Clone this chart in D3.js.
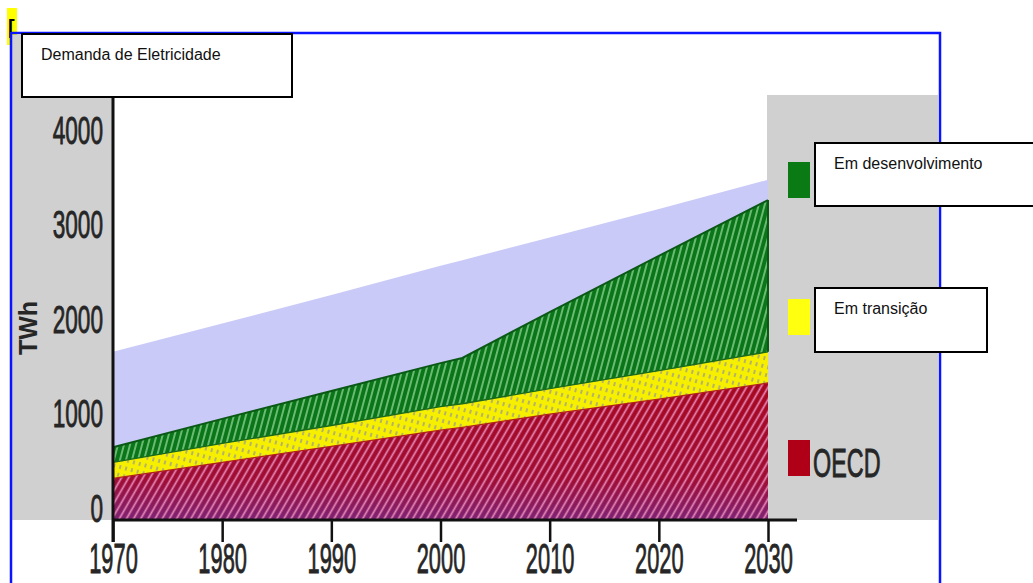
<!DOCTYPE html>
<html>
<head>
<meta charset="utf-8">
<script src="https://cdn.jsdelivr.net/npm/d3@7"></script>
<style>
  body { margin: 0; background: #fff; }
  svg { display: block; font-family: "Liberation Sans", Arial, sans-serif; }
</style>
</head>
<body>
<div id="chart"></div>
<script>
// values (TWh)
const years       = [1970, 1980, 1990, 2000, 2002, 2010, 2020, 2030];
const oecd        = [440, 610, 780, 950, 980, 1120, 1280, 1450];
const transition  = [170, 200, 220, 250, 250, 270, 300, 330];
const developing  = [160, 260, 365, 460, 485, 810, 1215, 1605];
const upperRange  = [1780, 2080, 2380, 2690, 2750, 2990, 3290, 3600];
const yTicks      = [0, 1000, 2000, 3000, 4000];
const xTicks      = [1970, 1980, 1990, 2000, 2010, 2020, 2030];

const width = 1033, height = 583;

let rows = years.map((yr, i) => ({
  year: yr, oecd: oecd[i], transition: transition[i], developing: developing[i], upper: upperRange[i]
}));

let x = d3.scaleLinear().domain([1970, 2030]).range([113, 768]);
let y = d3.scaleLinear().domain([0, 4000]).range([520, 142]);

let svg = d3.select("#chart").append("svg")
  .attr("width", width).attr("height", height);

let defs = svg.append("defs");

// red hatch + gradient
let grad = defs.append("linearGradient").attr("id", "redGrad")
  .attr("gradientUnits", "userSpaceOnUse")
  .attr("x1", 0).attr("y1", 380).attr("x2", 0).attr("y2", 522);
grad.append("stop").attr("offset", "0%").attr("stop-color", "#a8081f");
grad.append("stop").attr("offset", "70%").attr("stop-color", "#a00e35");
grad.append("stop").attr("offset", "100%").attr("stop-color", "#7c2478");

function stripes(id, w, angle, color, lw) {
  let p = defs.append("pattern").attr("id", id)
    .attr("patternUnits", "userSpaceOnUse")
    .attr("width", w).attr("height", 10)
    .attr("patternTransform", "rotate(" + angle + ")");
  p.append("line").attr("x1", w / 2).attr("x2", w / 2)
    .attr("y1", 0).attr("y2", 10)
    .attr("stroke", color).attr("stroke-width", lw);
  return p;
}
stripes("redHatch", 6.2, 30, "#e586b6", 1.7);
stripes("greenHatch", 5.8, 15, "#86cf8c", 1.5);

let yp = defs.append("pattern").attr("id", "yellowHatch")
  .attr("patternUnits", "userSpaceOnUse")
  .attr("width", 6).attr("height", 8)
  .attr("patternTransform", "rotate(15)");
yp.append("line").attr("x1", 3).attr("x2", 3).attr("y1", 2).attr("y2", 6)
  .attr("stroke", "#b0ac70").attr("stroke-width", 1.8);

// frame pieces
svg.append("rect").attr("x", 7).attr("y", 8).attr("width", 10).attr("height", 37).attr("fill", "#ffff00");
svg.append("text").attr("x", 8).attr("y", 34).attr("font-size", 20).attr("font-weight", "bold").text("[");

svg.append("rect").attr("x", 12).attr("y", 35).attr("width", 101).attr("height", 485).attr("fill", "#d0d0d0");
svg.append("rect").attr("x", 767).attr("y", 95).attr("width", 171).attr("height", 425).attr("fill", "#d0d0d0");

// areas
let stack = d3.stack().keys(["oecd", "transition", "developing"]);
let layers = stack(rows);

let area = d3.area()
  .x(d => x(d.data.year))
  .y0(d => y(d[0]))
  .y1(d => y(d[1]));

let upperArea = d3.area()
  .x(d => x(d.year))
  .y0(y(0))
  .y1(d => y(d.upper));

svg.append("path").datum(rows).attr("d", upperArea).attr("fill", "#cacaf8");

let fills = {
  oecd: ["url(#redGrad)", "url(#redHatch)", "#b0201a"],
  transition: ["#f6f000", "url(#yellowHatch)", "#1a6a1a"],
  developing: ["#0b7619", "url(#greenHatch)", "#0a5a16"]
};

let topLine = d3.line().x(d => x(d.data.year)).y(d => y(d[1]));

layers.forEach(l => {
  let f = fills[l.key];
  svg.append("path").datum(l).attr("d", area).attr("fill", f[0]);
  svg.append("path").datum(l).attr("d", area).attr("fill", f[1]);
});
layers.forEach(l => {
  svg.append("path").datum(l).attr("d", topLine)
    .attr("fill", "none").attr("stroke", fills[l.key][2])
    .attr("stroke-width", l.key === "developing" ? 2 : 1.3);
});
// right edge of green band
let last = layers[2][layers[2].length - 1];
svg.append("line").attr("x1", x(2030)).attr("x2", x(2030))
  .attr("y1", y(last[0])).attr("y2", y(last[1]))
  .attr("stroke", "#0a5a16").attr("stroke-width", 2);

// axes
let xAxis = svg.append("g").attr("transform", "translate(0,520)")
  .call(d3.axisBottom(x).tickValues(xTicks).tickSize(22).tickFormat(d3.format("d")));
xAxis.select(".domain").remove();
xAxis.selectAll(".tick line").attr("stroke", "#111").attr("stroke-width", 2.5);
xAxis.selectAll(".tick text")
  .attr("y", 53).attr("dy", null)
  .attr("font-size", 42).attr("fill", "#262626")
  .attr("stroke", "#262626").attr("stroke-width", 0.9)
  .attr("font-family", "Liberation Sans, Arial, sans-serif")
  .attr("transform", "scale(0.52,1)");

let yAxis = svg.append("g").attr("transform", "translate(113,0)")
  .call(d3.axisLeft(y).tickValues(yTicks).tickSize(0).tickFormat(d3.format("d")));
yAxis.select(".domain").remove();
yAxis.selectAll(".tick text")
  .attr("x", -10 / 0.58).attr("y", 1).attr("dy", null)
  .attr("font-size", 39).attr("fill", "#262626")
  .attr("stroke", "#262626").attr("stroke-width", 0.9)
  .attr("font-family", "Liberation Sans, Arial, sans-serif")
  .attr("transform", "scale(0.58,1)");

svg.append("line").attr("x1", 113).attr("x2", 113).attr("y1", 40).attr("y2", 542)
  .attr("stroke", "#111").attr("stroke-width", 3);
svg.append("line").attr("x1", 112).attr("x2", 797).attr("y1", 520).attr("y2", 520)
  .attr("stroke", "#111").attr("stroke-width", 3);

svg.append("text")
  .attr("transform", "translate(37,328) rotate(-90)")
  .attr("text-anchor", "middle")
  .attr("font-size", 25).attr("font-weight", "bold").attr("fill", "#262626")
  .text("TWh");

// legend
const legendColors = ["#0a7a14", "#ffff10", "#b00018"];
const legendY = [162, 299, 440];
legendColors.forEach((c, i) => {
  svg.append("rect").attr("x", 788).attr("y", legendY[i]).attr("width", 22).attr("height", 36).attr("fill", c);
});
svg.append("text").attr("transform", "translate(813,477) scale(0.57,1)")
  .attr("font-size", 41).attr("fill", "#262626")
  .attr("stroke", "#262626").attr("stroke-width", 0.9).text("OECD");

// blue border
svg.append("path").attr("d", "M11,583V33H940V583")
  .attr("fill", "none").attr("stroke", "#0a14ff").attr("stroke-width", 2.5);

// text boxes
function box(bx, by, bw, bh, label) {
  svg.append("rect").attr("x", bx).attr("y", by).attr("width", bw).attr("height", bh)
    .attr("fill", "#fff").attr("stroke", "#000").attr("stroke-width", 2);
  svg.append("text").attr("x", bx + 19).attr("y", by + 26)
    .attr("font-size", 16).attr("fill", "#111").text(label);
}
box(22, 34, 270, 63, "Demanda de Eletricidade");
box(815, 143, 230, 63, "Em desenvolvimento");
box(815, 288, 172, 64, "Em transição");
</script>
</body>
</html>
